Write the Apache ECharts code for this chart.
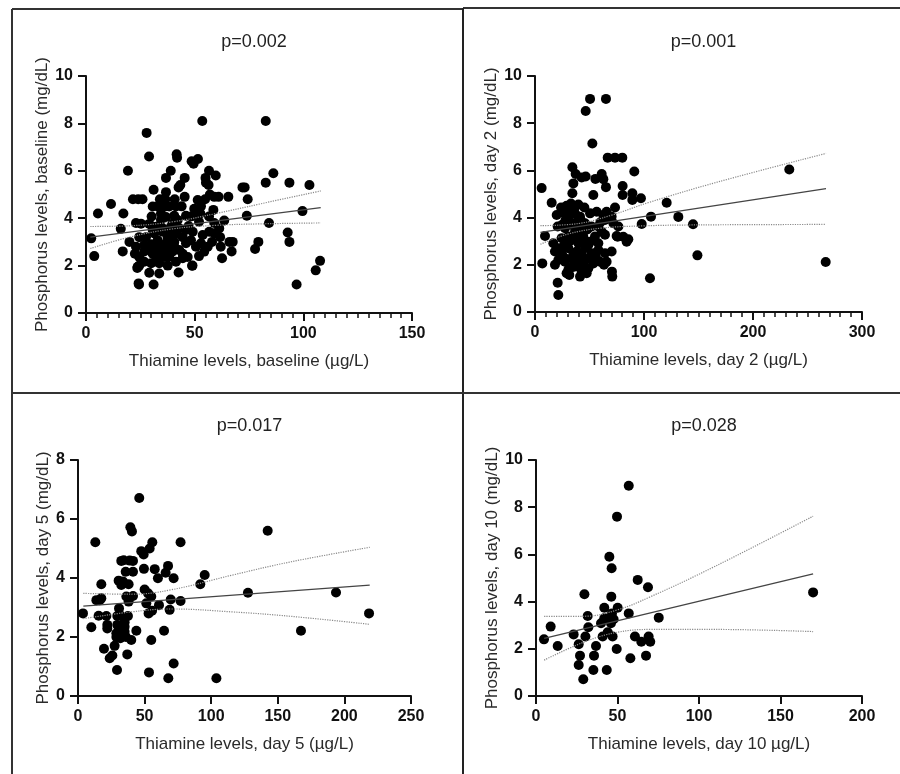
<!DOCTYPE html>
<html>
<head>
<meta charset="utf-8">
<style>
  html, body { margin: 0; padding: 0; background: #fff; }
  #chart { width: 900px; height: 774px; }
</style>
</head>
<body>
<div id="chart"></div>
<script src="https://cdn.jsdelivr.net/npm/echarts@6/dist/echarts.min.js"></script>
<script type="text/javascript">

// ---- panel 1: baseline ----
var baselinePoints = [
  [2.4,3.15],[3.8,2.4],[5.5,4.2],[11.5,4.6],[16,3.55],[17.2,4.2],[16.9,2.6],[19.3,6.0],[20,3.0],
  [21.6,4.8],[24,4.8],[26,4.8],[23,3.8],[25.3,3.77],[22.5,2.5],[23.6,1.9],[24.2,1.25],[24.4,1.2],
  [27.9,7.6],[29,6.6],[31.1,5.2],[31.1,1.2],[29.1,1.7],[33.7,1.67],[42.6,1.71],[36.8,5.7],[39,6.0],
  [41.7,6.7],[41.9,6.55],[42.6,5.3],[43.4,5.4],[45.4,5.7],[48.6,6.4],[49.5,6.3],[51.5,6.5],[53.5,8.1],
  [55,5.7],[55.2,5.5],[56.4,5.4],[56.6,6.0],[59.7,5.8],[36.8,5.1],[45.4,4.9],[34,4.8],[36.5,4.8],
  [40.8,4.8],[33,4.5],[36.8,4.5],[44,4.5],[49.8,4.4],[52.9,4.5],[54.8,4.8],[57,5.0],[59,4.9],[61,4.9],
  [65.5,4.9],[72,5.3],[73,5.3],[74.4,4.8],[30.2,4.07],[34.5,4.2],[36.8,4.05],[40.6,4.1],[46,4.1],
  [49.4,4.1],[52.6,4.2],[56.6,4.07],[58.6,4.35],[59,3.8],[63.6,3.9],[74,4.1],[29.1,3.76],[32.2,3.64],
  [35.3,3.57],[39.1,3.64],[43,3.57],[47.2,3.67],[52,3.85],[24.5,3.2],[27.6,3.2],[30,2.9],[33,3.07],
  [37.6,3.2],[40.6,3.0],[44.5,3.2],[48.3,3.07],[53.7,3.29],[58,3.0],[61.7,3.2],[66,3.0],[67.5,3.0],
  [24.5,2.36],[26.8,2.6],[30.7,2.5],[33.7,2.65],[36,2.36],[39.9,2.6],[44.5,2.5],[46.8,2.36],[49,2.0],
  [52,2.4],[56,2.8],[62,2.8],[62.6,2.31],[67,2.6],[24.5,2.0],[26.8,2.16],[30,2.1],[33.7,2.1],[37.6,2.0],
  [41.4,2.16],[23.8,1.95],[48.8,1.99],[31.4,3.36],[35.3,3.43],[39.1,3.43],[33.7,2.8],[36.8,2.94],
  [40.6,2.8],[42.9,2.66],[46,2.94],[38.3,3.15],[32.2,2.38],[29.9,2.66],[34.5,3.92],[42.2,3.92],[46,3.5],
  [49.1,3.43],[39.9,3.78],[30.7,3.5],[28.4,2.8],[37.6,2.73],[41.4,3.36],[44.5,2.31],[35.3,2.59],
  [38.3,2.38],[33,2.16],[26.8,2.87],[23,2.8],[50.6,2.8],[52.9,2.94],[54.4,2.59],[56.7,3.43],[59,3.36],
  [61.3,3.57],[48.3,4.07],[51.4,4.77],[38.3,4.49],[30.7,4.49],[41.4,4.49],[35.3,4.77],
  [77.8,2.7],[79.3,3.0],[82.7,8.1],[82.7,5.5],[84.2,3.8],[86.2,5.9],[92.8,3.4],[93.6,3.0],[93.6,5.5],
  [96.9,1.2],[99.6,4.3],[102.8,5.4],[105.7,1.8],[107.7,2.2]
];
var baselineFit = [[2,3.2],[108,4.45]];
var baselineUpper = [[2,3.65],[20,3.68],[40,3.85],[60,4.2],[80,4.6],[108,5.15]];
var baselineLower = [[2,2.72],[20,3.2],[40,3.55],[60,3.7],[80,3.76],[108,3.8]];

// ---- panel 2: day 2 ----
var day2Points = [
  [50.5,9.03],[65.1,9.03],[46.5,8.52],[52.6,7.14],[66.7,6.54],[73.4,6.54],[80.1,6.54],[34.3,6.13],
  [37.3,5.85],[42.8,5.7],[46.5,5.74],[55.4,5.64],[61.2,5.85],[62.7,5.63],[65.1,5.29],[6.1,5.25],
  [35.2,5.45],[91.1,5.95],[80.4,5.34],[80.4,4.96],[89.3,5.03],[89.3,4.75],[97.2,4.82],[53.5,4.96],
  [15.3,4.63],[34.3,5.03],[23.9,4.43],[29,4.5],[33,4.6],[39.8,4.55],[45.3,4.43],[19.9,4.11],[26,4.21],
  [30.6,4.32],[36.7,4.18],[41.3,4.04],[50.5,4.18],[56.6,4.25],[62.7,4.11],[65.7,4.25],[73.4,4.43],
  [106.4,4.04],[97.9,3.73],[76.5,3.62],[71.9,3.76],[9.2,3.22],[20.8,3.62],[27.5,3.55],[33.6,3.69],
  [39.8,3.55],[45.9,3.76],[52,3.62],[58.1,3.62],[61.2,3.4],[74.9,3.22],[81,3.19],[85.6,3.08],[84.1,2.98],
  [70.3,2.56],[70.6,1.71],[70.9,1.5],[105.5,1.43],[16.8,2.91],[24.5,3.13],[30.6,3.2],[36.7,3.06],
  [44.3,3.2],[50.5,2.98],[55,3.2],[64.2,3.27],[18.3,2.56],[24.5,2.49],[30.6,2.7],[38.2,2.56],[45.9,2.7],
  [52,2.49],[58.1,2.63],[64.2,2.49],[21.4,2.2],[27.5,2.13],[33.6,2.27],[39.8,2.13],[45.9,2.2],[53.5,2.06],
  [59.6,2.13],[65.7,2.13],[6.7,2.06],[18.3,2.0],[30.6,1.79],[36.7,1.93],[42.8,1.71],[48.9,1.85],[29,1.64],
  [31.5,1.57],[41.3,1.5],[47.4,1.64],[20.8,1.24],[21.4,0.72],[55.5,2.49],[58.1,2.91],[36.7,3.4],
  [42.8,3.26],[48.9,2.84],[26.9,2.84],[64.2,3.9],[70.3,4.04],[75.8,3.19],[63.3,2.0],
  [28,3.9],[32,3.0],[35,2.4],[38,3.8],[40,2.9],[43,2.4],[46,3.0],[48,3.5],[31,4.0],[27,2.3],[34,1.9],
  [44,1.9],[56,2.3],[60,3.8],[38,2.2],[42,3.9],[25,3.7],[22,2.7],[50,2.3],[36,4.4],
  [120.8,4.63],[131.5,4.03],[145,3.72],[149,2.4],[233.3,6.04],[266.7,2.12]
];
var day2Fit = [[5,3.37],[267,5.23]];
var day2Upper = [[5,3.66],[40,3.75],[70,4.1],[105,4.65],[167,5.5],[267,6.72]];
var day2Lower = [[5,2.87],[30,3.3],[60,3.55],[100,3.65],[150,3.69],[267,3.71]];

// ---- panel 3: day 5 ----
var day5Points = [
  [46,6.71],[39.3,5.72],[40.5,5.58],[13,5.21],[77,5.21],[55.8,5.21],[53.8,5.0],[47.5,4.91],[49.3,4.8],
  [32.5,4.58],[34.3,4.6],[38.8,4.59],[41.3,4.58],[35.8,4.21],[41.3,4.21],[49.5,4.31],[57.6,4.3],
  [67.6,4.41],[65.8,4.18],[60,3.99],[71.8,3.99],[30.5,3.91],[32.5,3.76],[38,3.79],[17.5,3.79],[95.1,4.1],
  [91.8,3.79],[50,3.61],[52.6,3.48],[55,3.37],[36.3,3.37],[41.3,3.39],[13.8,3.25],[17.5,3.31],[38,3.2],
  [51.3,3.14],[60.8,3.08],[69.6,3.27],[77,3.22],[127.6,3.5],[3.75,2.8],[15.5,2.72],[21.3,2.71],
  [29.5,2.71],[32.5,2.71],[37.5,2.71],[53,2.8],[55.6,2.89],[68.8,2.92],[10,2.33],[22,2.41],[22,2.29],
  [29.5,2.41],[35,2.35],[33,2.1],[28.8,2.13],[31.8,1.96],[40,1.9],[43.8,2.21],[64.6,2.21],[55,1.9],
  [27.5,1.7],[19.5,1.6],[23.8,1.28],[25.8,1.37],[37,1.41],[29.3,0.88],[53.3,0.8],[67.8,0.6],[71.8,1.1],
  [103.9,0.6],[35,2.18],[32.5,2.01],[30.8,2.97],[33.8,3.88],[37.6,3.33],[28.8,2.0],[16.3,3.25],
  [35,2.5],[34,2.2],[36,2.0],
  [142.4,5.6],[167.4,2.21],[193.7,3.51],[218.5,2.8]
];
var day5Fit = [[4,3.05],[219,3.76]];
var day5Upper = [[4,3.48],[40,3.45],[70,3.6],[116,4.1],[160,4.55],[219,5.04]];
var day5Lower = [[4,2.62],[40,2.85],[70,2.95],[116,2.85],[160,2.7],[219,2.43]];

// ---- panel 4: day 10 ----
var day10Points = [
  [56.9,8.91],[49.7,7.6],[45,5.9],[46.4,5.41],[62.4,4.92],[68.7,4.61],[29.7,4.31],[46.2,4.21],
  [41.9,3.74],[50.1,3.74],[31.7,3.39],[46.6,3.5],[44.6,3.29],[41.9,3.29],[47.6,3.25],[56.9,3.5],
  [75.3,3.32],[39.9,3.08],[46,3.08],[9,2.94],[32.1,2.91],[44,2.7],[40.9,2.52],[47,2.52],[23.1,2.61],
  [60.7,2.52],[64.6,2.3],[69.1,2.52],[70.1,2.3],[4.9,2.4],[26.2,2.19],[13.3,2.12],[36.8,2.12],
  [49.5,1.99],[27,1.71],[35.6,1.71],[57.9,1.6],[67.5,1.71],[26.2,1.31],[35.2,1.1],[43.4,1.1],[29,0.71],
  [30.3,2.52],[170,4.39]
];
var day10Fit = [[5,2.44],[170,5.17]];
var day10Upper = [[5,3.37],[30,3.38],[50,3.65],[70,4.2],[110,5.5],[170,7.62]];
var day10Lower = [[5,1.52],[30,2.3],[50,2.7],[70,2.82],[110,2.82],[170,2.73]];

// ---- panel texts and axis ranges ----
var pValues = ['p=0.002', 'p=0.001', 'p=0.017', 'p=0.028'];
var xNames = ['Thiamine levels, baseline (µg/L)', 'Thiamine levels, day 2 (µg/L)',
              'Thiamine levels, day 5 (µg/L)', 'Thiamine levels, day 10 µg/L)'];
var yNames = ['Phosphorus levels, baseline (mg/dL)', 'Phosphorus levels, day 2 (mg/dL)',
              'Phosphorus levels, day 5 (mg/dL)', 'Phosphorus levels, day 10 (mg/dL)'];
var xMax = [150, 300, 250, 200];
var xStep = [50, 100, 50, 50];
var yMax = [10, 10, 8, 10];

var panels = [
  { pts: baselinePoints, fit: baselineFit, up: baselineUpper, lo: baselineLower },
  { pts: day2Points, fit: day2Fit, up: day2Upper, lo: day2Lower },
  { pts: day5Points, fit: day5Fit, up: day5Upper, lo: day5Lower },
  { pts: day10Points, fit: day10Fit, up: day10Upper, lo: day10Lower }
];

// layout of the four plot areas
var grids = [
  { left: 86, top: 76, width: 326, height: 237 },
  { left: 535, top: 76, width: 327, height: 236 },
  { left: 78, top: 460, width: 333, height: 236 },
  { left: 536, top: 460, width: 326, height: 236 }
];
var minorOn = [true, true, false, false];
var yNameGap = [34, 33, 26, 34];

var font = 'Liberation Sans, Arial, sans-serif';
var axisColor = '#111';

var chart = echarts.init(document.getElementById('chart'));

var titles = [], xAxes = [], yAxes = [], series = [];
grids.forEach(function (g, i) {
  titles.push({
    text: pValues[i],
    left: g.left + g.width / 2,
    top: g.top - 48,
    textAlign: 'center',
    textStyle: { fontFamily: font, fontSize: 18, fontWeight: 'normal', color: '#222' }
  });
  xAxes.push({
    gridIndex: i, type: 'value', min: 0, max: xMax[i], interval: xStep[i],
    name: xNames[i], nameLocation: 'middle', nameGap: 40,
    nameTextStyle: { fontFamily: font, fontSize: 17, color: '#2a2a2a' },
    axisLine: { onZero: false, lineStyle: { color: axisColor, width: 2 } },
    axisTick: { show: true, length: 8, lineStyle: { color: axisColor, width: 2 } },
    minorTick: { show: minorOn[i], splitNumber: 10, length: 5, lineStyle: { color: axisColor, width: 1.5 } },
    axisLabel: { margin: 13, fontFamily: font, fontSize: 16, fontWeight: 'bold', color: '#111' },
    splitLine: { show: false }
  });
  yAxes.push({
    gridIndex: i, type: 'value', min: 0, max: yMax[i], interval: 2,
    name: yNames[i], nameLocation: 'middle', nameGap: yNameGap[i],
    nameTextStyle: { fontFamily: font, fontSize: 17, color: '#2a2a2a' },
    axisLine: { show: true, onZero: false, lineStyle: { color: axisColor, width: 2 } },
    axisTick: { show: true, length: 8, lineStyle: { color: axisColor, width: 2 } },
    axisLabel: { margin: 13, fontFamily: font, fontSize: 16, fontWeight: 'bold', color: '#111' },
    splitLine: { show: false }
  });
  var p = panels[i];
  series.push({
    type: 'scatter', xAxisIndex: i, yAxisIndex: i, data: p.pts,
    symbol: 'circle', symbolSize: 10, itemStyle: { color: '#000', opacity: 1 }, silent: true
  });
  series.push({
    type: 'line', xAxisIndex: i, yAxisIndex: i, data: p.fit, showSymbol: false,
    lineStyle: { color: '#444', width: 1.3 }, silent: true, z: 3
  });
  [p.up, p.lo].forEach(function (band) {
    series.push({
      type: 'line', xAxisIndex: i, yAxisIndex: i, data: band, showSymbol: false, smooth: 0.4,
      lineStyle: { color: '#8a8a8a', width: 1.2, type: 'dotted' }, silent: true, z: 3
    });
  });
});

chart.setOption({
  animation: false,
  backgroundColor: '#fff',
  title: titles,
  grid: grids,
  xAxis: xAxes,
  yAxis: yAxes,
  series: series,
  // panel frames
  graphic: [
    { type: 'line', shape: { x1: 12, y1: 9, x2: 463, y2: 9 }, style: { stroke: '#333', lineWidth: 2 } },
    { type: 'line', shape: { x1: 463, y1: 8, x2: 900, y2: 8 }, style: { stroke: '#333', lineWidth: 2 } },
    { type: 'line', shape: { x1: 12, y1: 9, x2: 12, y2: 774 }, style: { stroke: '#333', lineWidth: 2 } },
    { type: 'line', shape: { x1: 463, y1: 8, x2: 463, y2: 774 }, style: { stroke: '#222', lineWidth: 2 } },
    { type: 'line', shape: { x1: 12, y1: 393, x2: 900, y2: 393 }, style: { stroke: '#333', lineWidth: 2 } }
  ]
});
</script>
</body>
</html>
